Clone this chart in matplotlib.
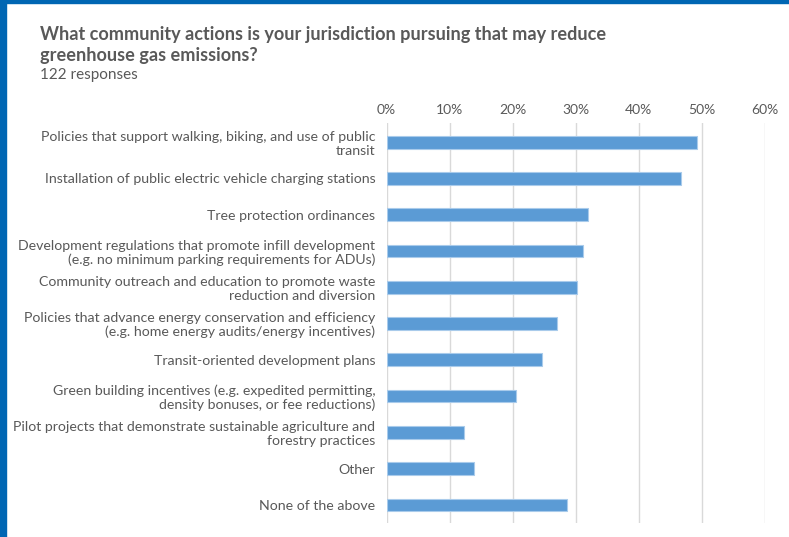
import matplotlib.pyplot as plt
import numpy as np

# survey answers, percent of 122 responses
categories = [
    'Policies that support walking, biking, and use of public\ntransit',
    'Installation of public electric vehicle charging stations',
    'Tree protection ordinances',
    'Development regulations that promote infill development\n(e.g. no minimum parking requirements for ADUs)',
    'Community outreach and education to promote waste\nreduction and diversion',
    'Policies that advance energy conservation and efficiency\n(e.g. home energy audits/energy incentives)',
    'Transit-oriented development plans',
    'Green building incentives (e.g. expedited permitting,\ndensity bonuses, or fee reductions)',
    'Pilot projects that demonstrate sustainable agriculture and\nforestry practices',
    'Other',
    'None of the above',
]
percents = [49.2, 46.7, 32.0, 31.1, 30.3, 27.0, 24.6, 20.5, 12.3, 13.9, 28.7]
ticks = [0, 10, 20, 30, 40, 50, 60]
tick_labels = [f'{t}%' for t in ticks]

TITLE = 'What community actions is your jurisdiction pursuing that may reduce\ngreenhouse gas emissions?'
SUBTITLE = '122 responses'

plt.rcParams['font.family'] = ['Lato', 'DejaVu Sans']
TEXT_GRAY = '#595959'
BAR_BLUE = '#5b9bd5'

fig = plt.figure(figsize=(7.89, 5.37), dpi=100)
ax = fig.add_axes([0.490, 0.0266, 0.479, 0.7444])

y = np.arange(len(categories))
ax.barh(y, percents, height=0.35, color=BAR_BLUE, edgecolor='#a9cbeb', linewidth=0.8, zorder=3)

ax.set_xlim(0, 60)
ax.set_ylim(10.49, -0.53)
ax.set_xticks(ticks)
ax.set_xticklabels(tick_labels)
ax.set_yticks(y)
ax.set_yticklabels(categories, ha='right', linespacing=1.15)
ax.xaxis.tick_top()
ax.tick_params(axis='x', length=0, pad=5, labelsize=10, labelcolor=TEXT_GRAY)
ax.tick_params(axis='y', length=0, pad=8, labelsize=10.2, labelcolor=TEXT_GRAY)
ax.grid(axis='x', color='#d9d9d9', linewidth=1, zorder=0)
for s in ax.spines.values():
    s.set_visible(False)

fig.text(40 / 789, 1 - 26 / 537, TITLE, fontsize=13.1, fontweight='bold', color=TEXT_GRAY,
         va='top', ha='left', linespacing=1.3)
fig.text(40 / 789, 1 - 68 / 537, SUBTITLE, fontsize=11, color=TEXT_GRAY, va='top', ha='left')

# blue frame on left and top edges
fig.patches.append(plt.Rectangle((0, 0), 6 / 789, 1, transform=fig.transFigure, color='#0066b3'))
fig.patches.append(plt.Rectangle((0, 1 - 3 / 537), 1, 3 / 537, transform=fig.transFigure, color='#0066b3'))

plt.savefig('out.png', dpi=100)
